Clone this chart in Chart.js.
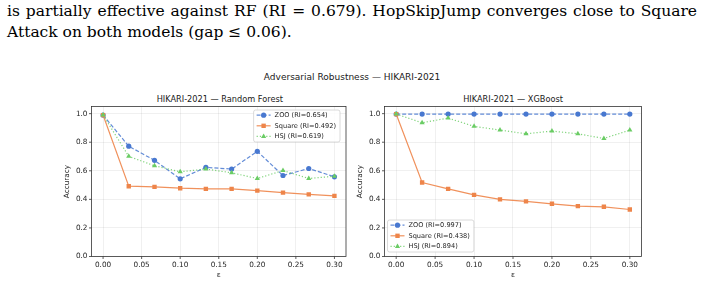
<!DOCTYPE html>
<html>
<head>
<meta charset="utf-8">
<script src="https://cdn.jsdelivr.net/npm/chart.js@4.4.0/dist/chart.umd.min.js"></script>
<style>
    body { margin: 0; background: #fff; width: 703px; height: 284px; overflow: hidden; position: relative; }
    .para { position: absolute; left: 7px; font-family: "DejaVu Serif"; font-size: 15.5px; line-height: 20.6px; color: #000; white-space: nowrap; }
    .fig { position: absolute; font-family: "DejaVu Sans"; color: #1a1a1a; white-space: nowrap; transform: translate(-50%, -50%); }
    .box { position: absolute; }
</style>
</head>
<body>
<div class="para" id="l1" style="top:1px">is partially effective against RF (RI = 0.679). HopSkipJump converges close to Square</div>
<div class="para" id="l2" style="top:21.6px">Attack on both models (gap ≤ 0.06).</div>
<div class="fig" style="left:352px;top:77.3px;font-size:9px">Adversarial Robustness — HIKARI-2021</div>
<div class="fig" style="left:219.8px;top:98.5px;font-size:8.2px">HIKARI-2021 — Random Forest</div>
<div class="fig" style="left:513px;top:98.5px;font-size:8.2px">HIKARI-2021 — XGBoost</div>
<div class="box" style="left:50px;top:88px"><canvas id="rf" width="300" height="196"></canvas></div>
<div class="box" style="left:350px;top:88px"><canvas id="xgb" width="300" height="196"></canvas></div>
<script>
    // data
    const eps = [0, 0.0333, 0.0667, 0.1, 0.1333, 0.1667, 0.2, 0.2333, 0.2667, 0.3];
    const xTicks = [0, 0.05, 0.10, 0.15, 0.20, 0.25, 0.30];
    const yTicks = [0, 0.2, 0.4, 0.6, 0.8, 1.0];

    const rfZoo    = [0.99, 0.772, 0.673, 0.544, 0.624, 0.612, 0.736, 0.567, 0.616, 0.558];
    const rfSquare = [0.99, 0.492, 0.487, 0.478, 0.473, 0.473, 0.461, 0.447, 0.435, 0.424];
    const rfHsj    = [0.99, 0.701, 0.635, 0.593, 0.612, 0.586, 0.546, 0.602, 0.546, 0.562];
    const rfLabels = ['ZOO (RI=0.654)', 'Square (RI=0.492)', 'HSJ (RI=0.619)'];

    const xgbZoo    = [0.997, 0.997, 0.997, 0.997, 0.997, 0.997, 0.997, 0.997, 0.997, 0.997];
    const xgbSquare = [0.997, 0.518, 0.473, 0.431, 0.400, 0.386, 0.369, 0.353, 0.348, 0.329];
    const xgbHsj    = [0.997, 0.936, 0.969, 0.911, 0.885, 0.859, 0.878, 0.859, 0.826, 0.885];
    const xgbLabels = ['ZOO (RI=0.997)', 'Square (RI=0.438)', 'HSJ (RI=0.894)'];

    const styles = [
        {color: '#4878d0', line: 'rgba(72,120,208,0.85)', dash: [4, 2], point: 'circle', r: 2.6},
        {color: '#ee854a', line: 'rgba(238,133,74,0.9)', dash: [], point: 'rect', r: 3.1},
        {color: '#6acc64', line: 'rgba(106,204,100,0.85)', dash: [1.2, 2], point: 'triangle', r: 3}
    ];
    const font = 'DejaVu Sans';
    const txt = '#262626';

    // justify first paragraph line
    var l1 = document.getElementById('l1');
    var w1 = l1.getBoundingClientRect().width;
    var nsp = (l1.textContent.match(/ /g) || []).length;
    l1.style.wordSpacing = ((690 - w1) / nsp) + 'px';

    const frame = {
        id: 'frame',
        afterDatasetsDraw(chart) {
            const {ctx, chartArea: a, scales} = chart;
            ctx.save();
            ctx.strokeStyle = '#333';
            ctx.lineWidth = 0.8;
            ctx.strokeRect(a.left, a.top, a.right - a.left, a.bottom - a.top);
            ctx.beginPath();
            xTicks.forEach(v => {
                const x = scales.x.getPixelForValue(v);
                ctx.moveTo(x, a.bottom); ctx.lineTo(x, a.bottom + 2.5);
            });
            yTicks.forEach(v => {
                const y = scales.y.getPixelForValue(v);
                ctx.moveTo(a.left, y); ctx.lineTo(a.left - 2.5, y);
            });
            ctx.stroke();
            ctx.restore();
        }
    };

    function legendPlugin(labels, corner) {
        return {
            id: 'boxLegend',
            afterDraw(chart) {
                const {ctx, chartArea: a} = chart;
                ctx.save();
                ctx.font = '6.6px "' + font + '"';
                const tw = Math.max(...labels.map(t => ctx.measureText(t).width));
                const w = tw + 25, h = 32;
                const x0 = corner === 'ur' ? a.right - 6 - w : a.left + 3;
                const y0 = corner === 'ur' ? a.top + 3.5 : a.bottom - 4.5 - h;
                ctx.fillStyle = 'rgba(255,255,255,0.85)';
                ctx.strokeStyle = 'rgba(204,204,204,0.9)';
                ctx.lineWidth = 0.8;
                ctx.beginPath();
                ctx.roundRect(x0, y0, w, h, 2);
                ctx.fill();
                ctx.stroke();
                labels.forEach((t, i) => {
                    const st = styles[i];
                    const cy = y0 + 5.2 + i * 10.6;
                    ctx.strokeStyle = st.line;
                    ctx.lineWidth = 1.2;
                    ctx.setLineDash(st.dash);
                    ctx.beginPath();
                    ctx.moveTo(x0 + 3, cy); ctx.lineTo(x0 + 17, cy);
                    ctx.stroke();
                    ctx.setLineDash([]);
                    ctx.fillStyle = st.color;
                    Chart.helpers.drawPoint(ctx, {pointStyle: st.point, radius: st.r, rotation: 0, borderWidth: 0}, x0 + 10, cy);
                    ctx.fillStyle = txt;
                    ctx.textBaseline = 'middle';
                    ctx.fillText(t, x0 + 21, cy);
                });
                ctx.restore();
            }
        };
    }

    function makeChart(id, series, labels, yWidth, padRight, yTitlePad, corner) {
        return new Chart(document.getElementById(id), {
            type: 'line',
            data: {
                datasets: series.map((vals, i) => ({
                    label: labels[i],
                    data: eps.map((x, k) => ({x: x, y: vals[k]})),
                    borderColor: styles[i].line,
                    backgroundColor: styles[i].color,
                    borderWidth: 1.2,
                    borderDash: styles[i].dash,
                    pointStyle: styles[i].point,
                    pointRadius: styles[i].r,
                    pointBorderWidth: 0,
                    pointBackgroundColor: styles[i].color,
                    tension: 0,
                    order: 2 - i
                }))
            },
            options: {
                responsive: false,
                animation: false,
                devicePixelRatio: 1,
                layout: {padding: {top: 18.5, right: padRight, left: 0, bottom: 0}},
                plugins: {legend: {display: false}, tooltip: {enabled: false}},
                scales: {
                    x: {
                        type: 'linear', min: -0.015, max: 0.315,
                        afterBuildTicks: s => { s.ticks = xTicks.map(v => ({value: v})); },
                        afterFit: s => { s.height = 27.5; },
                        grid: {color: 'rgba(0,0,0,0.08)', lineWidth: 0.8, drawTicks: false},
                        border: {display: false},
                        ticks: {padding: 4, autoSkip: false, maxRotation: 0, color: txt,
                                font: {family: font, size: 7.3}, callback: v => v.toFixed(2)},
                        title: {display: true, text: 'ε', color: txt, font: {family: font, size: 7.3},
                                padding: {top: 0, bottom: 4.6}}
                    },
                    y: {
                        type: 'linear', min: 0, max: 1.05,
                        afterBuildTicks: s => { s.ticks = yTicks.map(v => ({value: v})); },
                        afterFit: s => { s.width = yWidth; },
                        grid: {color: 'rgba(0,0,0,0.08)', lineWidth: 0.8, drawTicks: false},
                        border: {display: false},
                        ticks: {padding: 4, color: txt, font: {family: font, size: 7.3}, callback: v => v.toFixed(1)},
                        title: {display: true, text: 'Accuracy', color: txt, font: {family: font, size: 7.3},
                                padding: {top: yTitlePad, bottom: 0}}
                    }
                }
            },
            plugins: [frame, legendPlugin(labels, corner)]
        });
    }

    makeChart('rf', [rfZoo, rfSquare, rfHsj], rfLabels, 41.5, 1.5, 13.1, 'ur');
    makeChart('xgb', [xgbZoo, xgbSquare, xgbHsj], xgbLabels, 34.5, 8.5, 6.1, 'll');
</script>
</body>
</html>
